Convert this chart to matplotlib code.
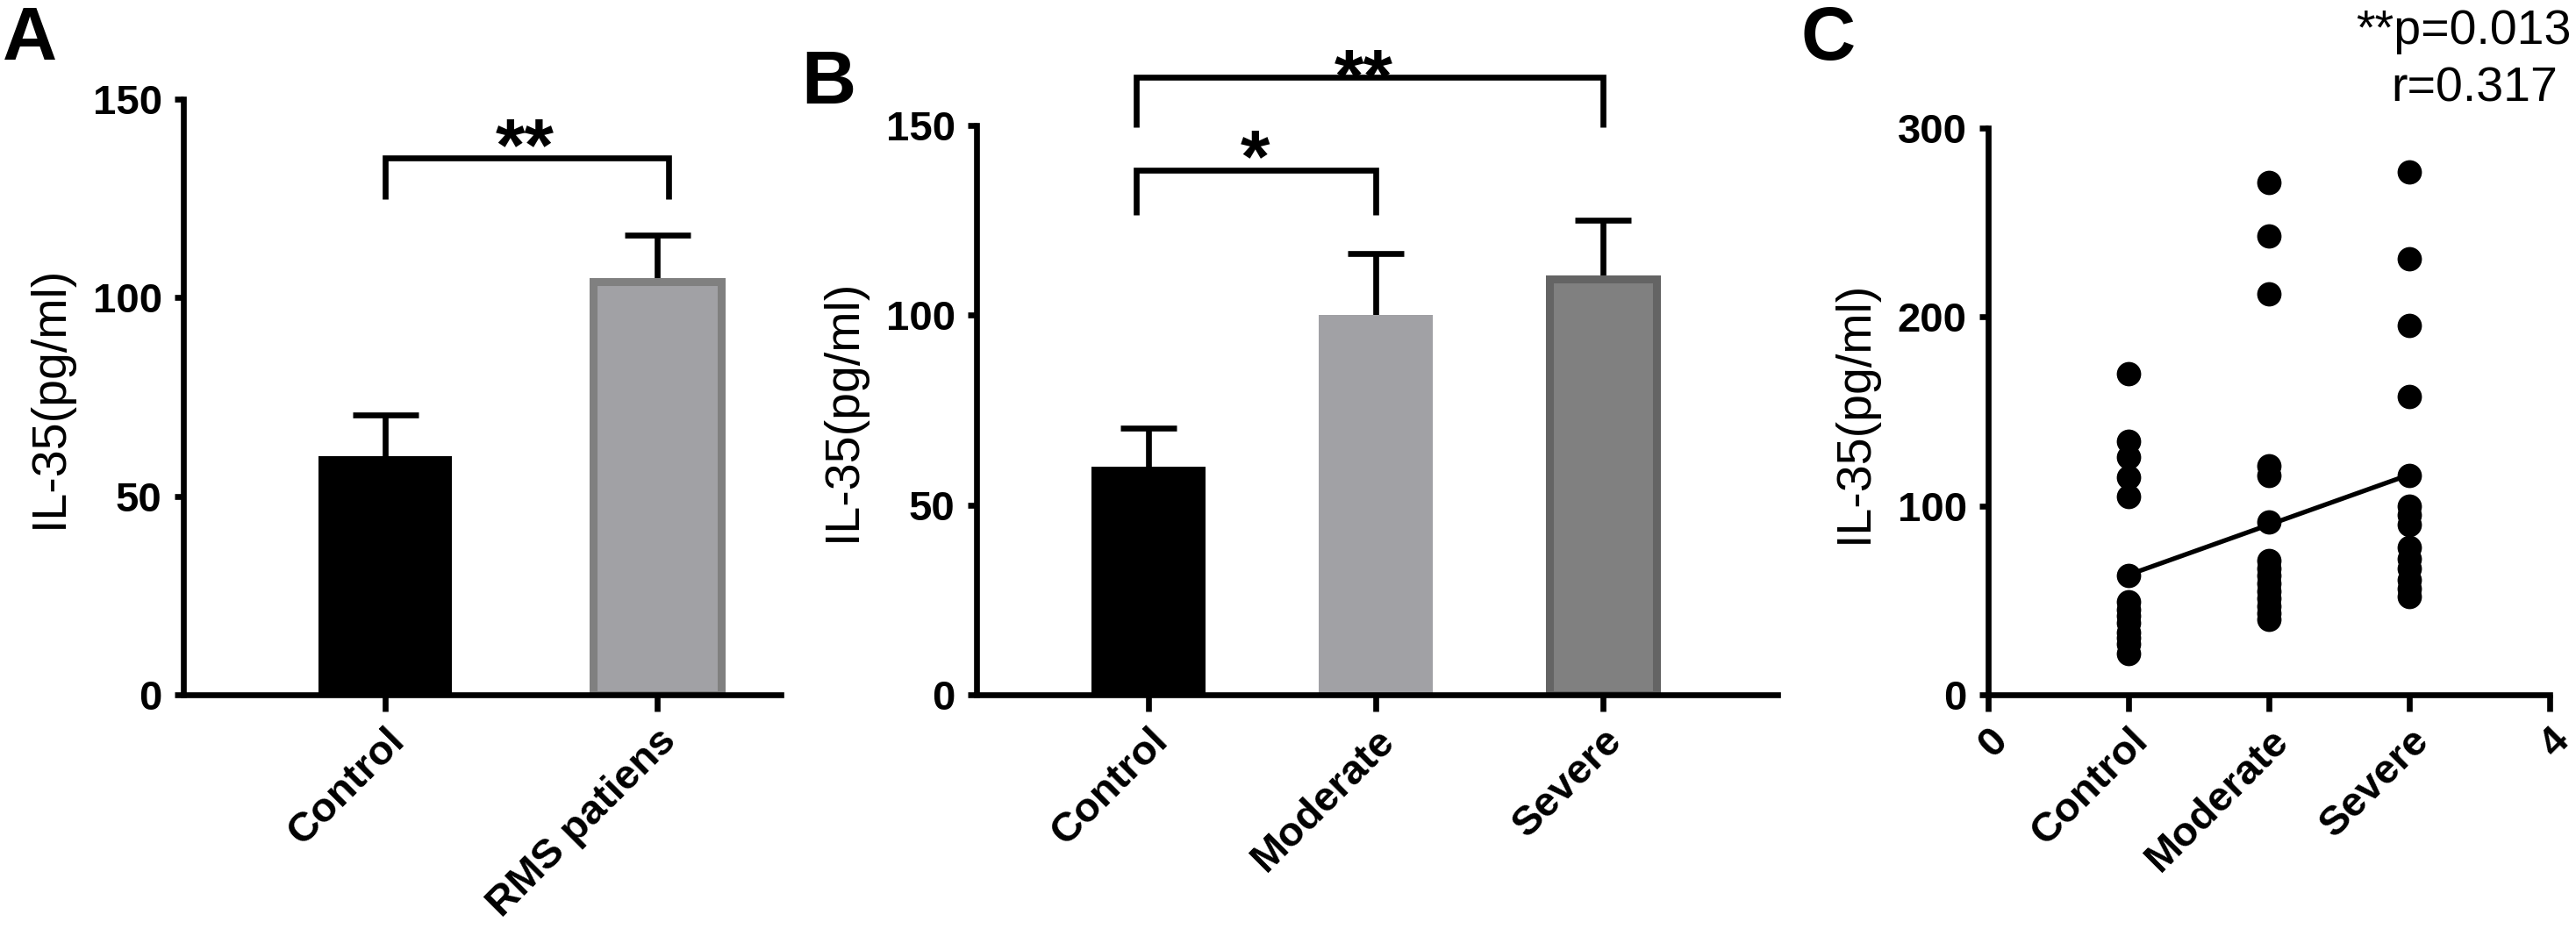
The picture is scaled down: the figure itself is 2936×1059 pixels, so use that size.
import numpy as np
import matplotlib
matplotlib.use("Agg")
import matplotlib.pyplot as plt
from matplotlib.transforms import offset_copy

plt.rcParams['font.family'] = ['Liberation Sans', 'DejaVu Sans']

# ---- data ----
a_groups = ['Control', 'RMS patiens']
a_means = [60, 104]
a_err = [10.4, 11.7]

b_groups = ['Control', 'Moderate', 'Severe']
b_means = [60, 100, 109.5]
b_err = [10.3, 16.3, 15.6]

c_control = [170, 134, 126, 115, 105, 63, 49, 45, 42, 38, 33, 30, 27, 22]
c_moderate = [271, 243, 212, 121, 116, 91.5, 71, 67, 63, 59, 55, 51, 47, 43, 40]
c_severe = [277, 231, 195.5, 158, 116, 100, 95, 90, 78, 72, 67, 61, 56, 52]
c_fit_x = [1, 3]
c_fit_y = [63.5, 116.5]
c_ticklabels = ['0', 'Control', 'Moderate', 'Severe', '4']

# significance brackets: (x_left, x_right, y_top, y_leg_bottom, label, x_label, y_label_centre)
a_sig = [(0.0, 1.044, 135.1, 124.8, '**', 0.516, 142.7)]
b_sig = [(-0.055, 1.0, 138.3, 126.5, '*', 0.47, 146.4),
         (-0.055, 2.0, 162.7, 149.5, '**', 0.946, 167.5)]

LW = 4.8
W, H = 2936, 1059
fig = plt.figure(figsize=(W / 100, H / 100), dpi=100)


def px_axes(left, right, bottom, top):
    return fig.add_axes([left / W, 1 - bottom / H, (right - left) / W, (bottom - top) / H])


def style(ax):
    for s in ['top', 'right']:
        ax.spines[s].set_visible(False)
    for s in ['left', 'bottom']:
        ax.spines[s].set_linewidth(LW)
    ax.tick_params(axis='y', length=7.5, width=LW, pad=10, labelsize=34)
    ax.tick_params(axis='x', length=14, width=LW, pad=8, labelsize=34)
    for lab in ax.get_yticklabels() + ax.get_xticklabels():
        lab.set_fontweight('bold')
    plt.setp(ax.get_xticklabels(), rotation=45, ha='right', va='top', rotation_mode='anchor')
    ax.set_ylabel('IL-35(pg/ml)', fontsize=40, labelpad=16)


def upper_errors(ax, x, means, err, cap):
    top = np.array(means) + np.array(err)
    ax.vlines(x, means, top, color='black', lw=LW, zorder=1)
    ax.plot(x, top, ls='none', marker='_', ms=cap, mew=LW, color='black', zorder=1)


def brackets(ax, sig):
    fs = 62
    for x0, x1, yt, yb, lab, xl, yc in sig:
        ax.plot([x0, x0, x1, x1], [yb, yt, yt, yb], color='black', lw=LW,
                solid_joinstyle='miter', solid_capstyle='butt', clip_on=False)
        # place the asterisks so that their visual centre sits at yc
        tr = offset_copy(ax.transData, fig=fig, y=-0.56 * fs, units='points')
        ax.text(xl, yc, lab, ha='center', va='baseline', fontsize=fs,
                fontweight='bold', transform=tr, clip_on=False)


# ---- panel A ----
axA = px_axes(209, 890, 792, 113)
xa = np.arange(len(a_groups))
upper_errors(axA, xa, a_means, a_err, 54)
axA.bar(xa[0], a_means[0], width=0.49, color='black', zorder=2)
axA.bar(xa[1], a_means[1], width=0.47, color='#a1a1a5', edgecolor='#808080',
        linewidth=6.5, zorder=2)
axA.set_xlim(-0.74, 1.455)
axA.set_ylim(0, 150)
axA.set_yticks([0, 50, 100, 150])
axA.set_xticks(xa)
axA.set_xticklabels(a_groups)
style(axA)
brackets(axA, a_sig)

# ---- panel B ----
axB = px_axes(1113, 2026, 792, 143)
xb = np.arange(len(b_groups))
upper_errors(axB, xb, b_means, b_err, 46)
axB.bar(xb[0], b_means[0], width=0.5, color='black', zorder=2)
axB.bar(xb[1], b_means[1], width=0.5, color='#a1a1a5', zorder=2)
axB.bar(xb[2], b_means[2], width=0.47, color='#808080', edgecolor='#646464',
        linewidth=6.5, zorder=2)
axB.set_xlim(-0.757, 2.77)
axB.set_ylim(0, 150)
axB.set_yticks([0, 50, 100, 150])
axB.set_xticks(xb)
axB.set_xticklabels(b_groups)
style(axB)
brackets(axB, b_sig)

# ---- panel C ----
axC = px_axes(2266, 2906, 792, 146)
for i, vals in enumerate([c_control, c_moderate, c_severe], start=1):
    axC.scatter(np.full(len(vals), i), vals, s=400, color='black', zorder=3,
                clip_on=False, linewidths=0)
axC.plot(c_fit_x, c_fit_y, color='black', lw=3.8, zorder=2)
axC.set_xlim(0, 4)
axC.set_ylim(0, 300)
axC.set_yticks([0, 100, 200, 300])
axC.set_xticks(np.arange(5))
axC.set_xticklabels(c_ticklabels)
style(axC)

fig.text(2931 / W, 1 - 50 / H, '**p=0.013', ha='right', va='baseline', fontsize=40)
fig.text(2915 / W, 1 - 116 / H, 'r=0.317', ha='right', va='baseline', fontsize=40)

# panel letters
fig.text(3 / W, 1 - 68 / H, 'A', fontsize=62, fontweight='bold', va='baseline')
fig.text(913 / W, 1 - 118 / H, 'B', fontsize=62, fontweight='bold', va='baseline')
fig.text(2052 / W, 1 - 68 / H, 'C', fontsize=62, fontweight='bold', va='baseline')

fig.savefig('out.png', dpi=100, facecolor='white')
